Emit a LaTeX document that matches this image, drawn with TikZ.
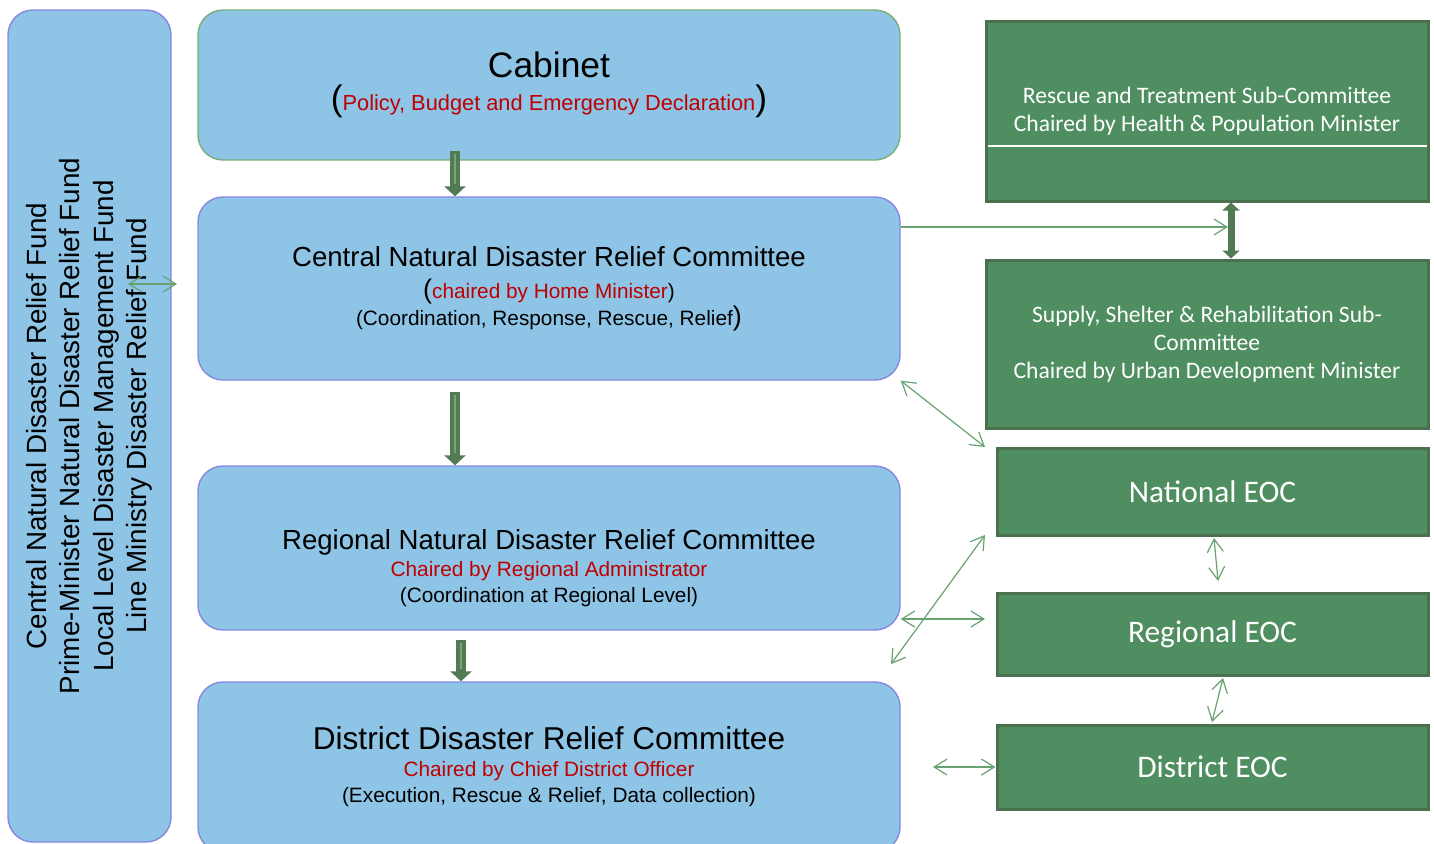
\documentclass[tikz,border=0pt]{standalone}
\usepackage{fontspec}
\setmainfont{Liberation Sans}
\newfontfamily\calibri{Carlito}
\usetikzlibrary{arrows.meta}

\definecolor{boxblue}{RGB}{142,196,230}
\definecolor{boxedge}{RGB}{135,135,225}
\definecolor{cabedge}{RGB}{120,175,120}
\definecolor{eocgreen}{RGB}{79,142,96}
\definecolor{eocedge}{RGB}{74,112,78}
\definecolor{linkgreen}{RGB}{104,162,112}
\definecolor{chairred}{RGB}{192,0,0}
\definecolor{flowgreen}{RGB}{82,122,84}
\definecolor{flowlight}{RGB}{118,166,118}

\tikzset{
  bluebox/.style={rectangle, rounded corners=12.5pt, draw=boxedge, line width=0.7pt, fill=boxblue, minimum width=351pt, align=center, inner sep=0pt, font=\fontsize{10.4}{13}\selectfont},
  greenbox/.style={rectangle, draw=eocedge, line width=1.5pt, fill=eocgreen, text=white, align=center, inner sep=0pt, minimum width=221pt, font=\calibri\fontsize{11.8}{14}\selectfont},
  eocbox/.style={greenbox, minimum width=215.5pt, font=\calibri\fontsize{15.7}{18}\selectfont},
  link/.style={draw=linkgreen, line width=0.6pt, -{Straight Barb[length=6.5pt,width=8pt]}},
  twoway/.style={draw=linkgreen, line width=0.6pt, {Straight Barb[length=6.5pt,width=8pt]}-{Straight Barb[length=6.5pt,width=8pt]}},
  flow/.style={draw=flowgreen, line width=5pt, -{Triangle[length=5pt,width=10.5pt]}},
  flowstripe/.style={draw=flowlight, line width=1.3pt, shorten >=6pt, shorten <=1.5pt},
  bothflow/.style={draw=flowgreen, line width=3.5pt, {Triangle[length=4pt,width=8.5pt]}-{Triangle[length=4pt,width=8.5pt]}}
}

\begin{document}
\begin{tikzpicture}[x=0.5pt, y=-0.5pt]
  \clip (0,0) rectangle (1434,843);

  % Funds column on the left
  \node (funds) [bluebox, minimum width=416pt, minimum height=81.5pt, rotate=90, font=\fontsize{13.9}{16.75}\selectfont] at (89.5,426)
    {Central Natural Disaster Relief Fund\\Prime-Minister Natural Disaster Relief Fund\\Local Level Disaster Management Fund\\Line Ministry Disaster Relief Fund};

  % Committees
  \node (cabinet) [bluebox, draw=cabedge, minimum height=75pt] at (549,85)
    {{\fontsize{17.7}{20}\selectfont Cabinet}\\[3.5pt]
     {\fontsize{17.7}{20}\selectfont(}\textcolor{chairred}{\fontsize{10.9}{13}\selectfont Policy, Budget and Emergency Declaration}{\fontsize{17.7}{20}\selectfont)}};
  \node (central) [bluebox, minimum height=91.5pt] at (549,288.5)
    {{\fontsize{13.8}{16}\selectfont Central Natural Disaster Relief Committee}\\[3pt]
     {\fontsize{13.5}{15}\selectfont(}\textcolor{chairred}{chaired by Home Minister})\\[0.5pt]
     (Coordination, Response, Rescue, Relief{\fontsize{13.5}{15}\selectfont)}};
  \node (regional) [bluebox, minimum height=82pt] at (549,548) {};
  \node (regionaltext) [align=center, font=\fontsize{10.4}{13}\selectfont] at (549,568)
    {{\fontsize{13.8}{16}\selectfont Regional Natural Disaster Relief Committee}\\[0.5pt]
     \textcolor{chairred}{Chaired by Regional Administrator}\\
     (Coordination at Regional Level)};
  \node (district) [bluebox, minimum height=85pt] at (549,767)
    {{\fontsize{15.8}{18}\selectfont District Disaster Relief Committee}\\[0.5pt]
     \textcolor{chairred}{Chaired by Chief District Officer}\\
     (Execution, Rescue \& Relief, Data collection)};

  % Sub-committees and EOCs
  \node (rescue) [greenbox, minimum height=90pt] at (1207,111)
    {Rescue and Treatment Sub-Committee\\Chaired by Health \& Population Minister};
  \draw[white, line width=0.6pt] ([xshift=1.5pt, yshift=-17.5pt]rescue.west) -- ([xshift=-1.5pt, yshift=-17.5pt]rescue.east);
  \node (supply) [greenbox, minimum height=84pt] at (1207,344)
    {Supply, Shelter \& Rehabilitation Sub-\\Committee\\Chaired by Urban Development Minister};
  \node (national) [eocbox, minimum height=43.5pt] at (1212.5,491.5) {National EOC};
  \node (regeoc) [eocbox, minimum height=41pt] at (1212.5,634) {Regional EOC};
  \node (disteoc) [eocbox, minimum height=42pt] at (1212.5,767) {District EOC};

  % Free ends of the connectors
  \coordinate (cabout) at (455,151);
  \coordinate (centralout) at (455,392);
  \coordinate (regionalout) at (461,640);
  \coordinate (subx) at (1231,0);
  \coordinate (relayend) at (1228,227);
  \coordinate (fundl) at (128,284);
  \coordinate (fundr) at (177,284);
  \coordinate (diagB) at (985,447);
  \coordinate (diagC) at (985,535);
  \coordinate (diagD) at (891,664);
  \coordinate (regr) at (985,619);
  \coordinate (distl) at (933,767);
  \coordinate (eocA) at (1214,538);
  \coordinate (eocB) at (1218,581);
  \coordinate (eocC) at (1223,678);
  \coordinate (eocD) at (1212,722);

  % Chain of command
  \draw[flow] (cabout) -- (cabout |- central.north);
  \draw[flowstripe] (cabout) -- (cabout |- central.north);
  \draw[flow] (centralout) -- (centralout |- regional.north);
  \draw[flowstripe] (centralout) -- (centralout |- regional.north);
  \draw[flow] (regionalout) -- (regionalout |- district.north);
  \draw[flowstripe] (regionalout) -- (regionalout |- district.north);
  \draw[bothflow] (rescue.south -| subx) -- (supply.north -| subx);

  % Links
  \draw[link] (central.east |- relayend) -- (relayend);
  \draw[twoway] (fundl) -- (fundr);
  \draw[twoway] (central.south east) -- (diagB);
  \draw[twoway] (diagC) -- (diagD);
  \draw[twoway] (regional.east |- regr) -- (regr);
  \draw[twoway] (distl) -- (disteoc.west);
  \draw[twoway] (eocA) -- (eocB);
  \draw[twoway] (eocC) -- (eocD);
\end{tikzpicture}
\end{document}
